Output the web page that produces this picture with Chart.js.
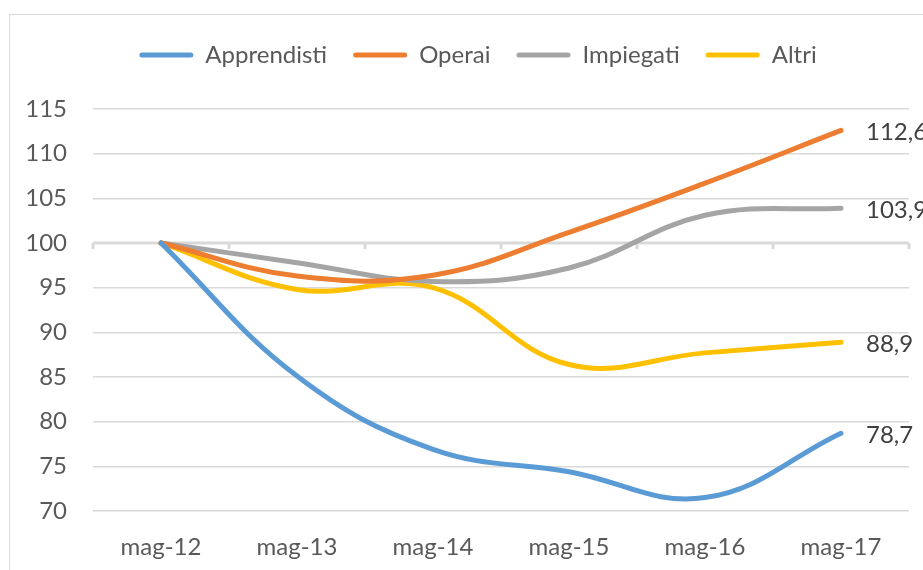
<!DOCTYPE html>
<html>
<head>
<meta charset="utf-8">
<script src="https://cdn.jsdelivr.net/npm/chart.js@4.4.1/dist/chart.umd.min.js"></script>
<style>
  html, body { margin: 0; padding: 0; background: #fff; }
  #wrap { position: relative; width: 923px; height: 570px; overflow: hidden; }
  #frame { position: absolute; left: 9px; top: 14px; width: 1000px; height: 600px; border: 1.5px solid #d9d9d9; box-sizing: border-box; }
  #c { position: absolute; left: 10px; top: 0; }
</style>
</head>
<body>
<div id="wrap">
  <div id="frame"></div>
  <canvas id="c" width="936" height="570"></canvas>
</div>
<script>
const categories = ["mag-12", "mag-13", "mag-14", "mag-15", "mag-16", "mag-17"];
const apprendisti = [100, 85.1, 76.9, 74.4, 71.5, 78.7];
const operai      = [100, 96.3, 96.4, 101.2, 106.7, 112.6];
const impiegati   = [100, 97.8, 95.7, 97.2, 103.1, 103.9];
const altri       = [100, 94.8, 95.0, 86.4, 87.7, 88.9];
const seriesNames = ["Apprendisti", "Operai", "Impiegati", "Altri"];
const seriesColors = ["#5B9BD5", "#ED7D31", "#A5A5A5", "#FFC000"];
const yTicks = [70, 75, 80, 85, 90, 95, 100, 105, 110, 115];

const FONT = "Lato";
const seriesData = [apprendisti, operai, impiegati, altri];

const legendSpace = {
  id: 'legendSpace',
  beforeLayout(chart) {
    const lg = chart.legend;
    if (lg && !lg._patched) {
      const f = lg.fit.bind(lg);
      lg.fit = function () { f(); this.height += 32; };
      lg._patched = true;
    }
  },
  afterLayout(chart) {
    const lg = chart.legend;
    if (lg) { lg.left = 0; lg.right = chart.width; lg.width = chart.width; }
  }
};

const axisAt100 = {
  id: 'axisAt100',
  beforeDatasetsDraw(chart) {
    const ctx = chart.ctx, xs = chart.scales.x, ys = chart.scales.y, a = chart.chartArea;
    const y = ys.getPixelForValue(100);
    ctx.save();
    ctx.strokeStyle = '#d9d9d9';
    ctx.lineWidth = 3;
    ctx.beginPath();
    ctx.moveTo(a.left, y); ctx.lineTo(a.right, y);
    const n = categories.length;
    const bounds = [a.left];
    for (let i = 1; i < n; i++) bounds.push((xs.getPixelForValue(i - 1) + xs.getPixelForValue(i)) / 2);
    bounds.push(a.right);
    bounds.forEach(bx => { ctx.moveTo(bx, y); ctx.lineTo(bx, y + 6); });
    ctx.stroke();
    ctx.restore();
  }
};

const endLabels = {
  id: 'endLabels',
  afterDatasetsDraw(chart) {
    const ctx = chart.ctx;
    ctx.save();
    ctx.font = `24px ${FONT}`;
    ctx.fillStyle = '#404040';
    ctx.textAlign = 'left';
    ctx.textBaseline = 'middle';
    chart.data.datasets.forEach((ds, i) => {
      const meta = chart.getDatasetMeta(i);
      const pt = meta.data[meta.data.length - 1];
      const v = ds.data[ds.data.length - 1];
      ctx.fillText(v.toFixed(1).replace('.', ','), pt.x + 25, pt.y + 2);
    });
    ctx.restore();
  }
};

new Chart(document.getElementById('c'), {
  type: 'line',
  data: {
    labels: categories,
    datasets: seriesData.map((d, i) => ({
      label: seriesNames[i],
      data: d,
      borderColor: seriesColors[i],
      backgroundColor: seriesColors[i],
      borderWidth: 5,
      pointRadius: 0,
      tension: 0.4,
      borderCapStyle: 'round',
      borderJoinStyle: 'round',
      fill: false
    }))
  },
  options: {
    responsive: false,
    animation: false,
    layout: { padding: { left: 0, right: 37, top: 17, bottom: 0 } },
    plugins: {
      tooltip: { enabled: false },
      legend: {
        position: 'top',
        labels: {
          font: { family: FONT, size: 24 },
          color: '#595959',
          boxWidth: 54,
          boxHeight: 5,
          padding: 26,
          useBorderRadius: true,
          borderRadius: 2.5,
          generateLabels(chart) {
            return chart.data.datasets.map((ds, i) => ({
              text: ds.label,
              fillStyle: ds.borderColor,
              strokeStyle: ds.borderColor,
              lineWidth: 0,
              fontColor: '#595959',
              hidden: false,
              datasetIndex: i,
              borderRadius: 2.5
            }));
          }
        }
      }
    },
    scales: {
      x: {
        offset: true,
        grid: { display: false, drawTicks: false },
        border: { display: false },
        afterFit(scale) { scale.height = 59; },
        ticks: { font: { family: FONT, size: 24 }, color: '#595959', padding: 22, maxRotation: 0 }
      },
      y: {
        min: 70, max: 115,
        afterBuildTicks(scale) { scale.ticks = yTicks.map(v => ({ value: v })); },
        afterFit(scale) { scale.width = 83; },
        grid: { color: '#d9d9d9', lineWidth: 1.5, drawTicks: false },
        border: { display: false },
        ticks: { font: { family: FONT, size: 24 }, color: '#595959', padding: 26 }
      }
    }
  },
  plugins: [legendSpace, axisAt100, endLabels]
});
</script>
</body>
</html>
